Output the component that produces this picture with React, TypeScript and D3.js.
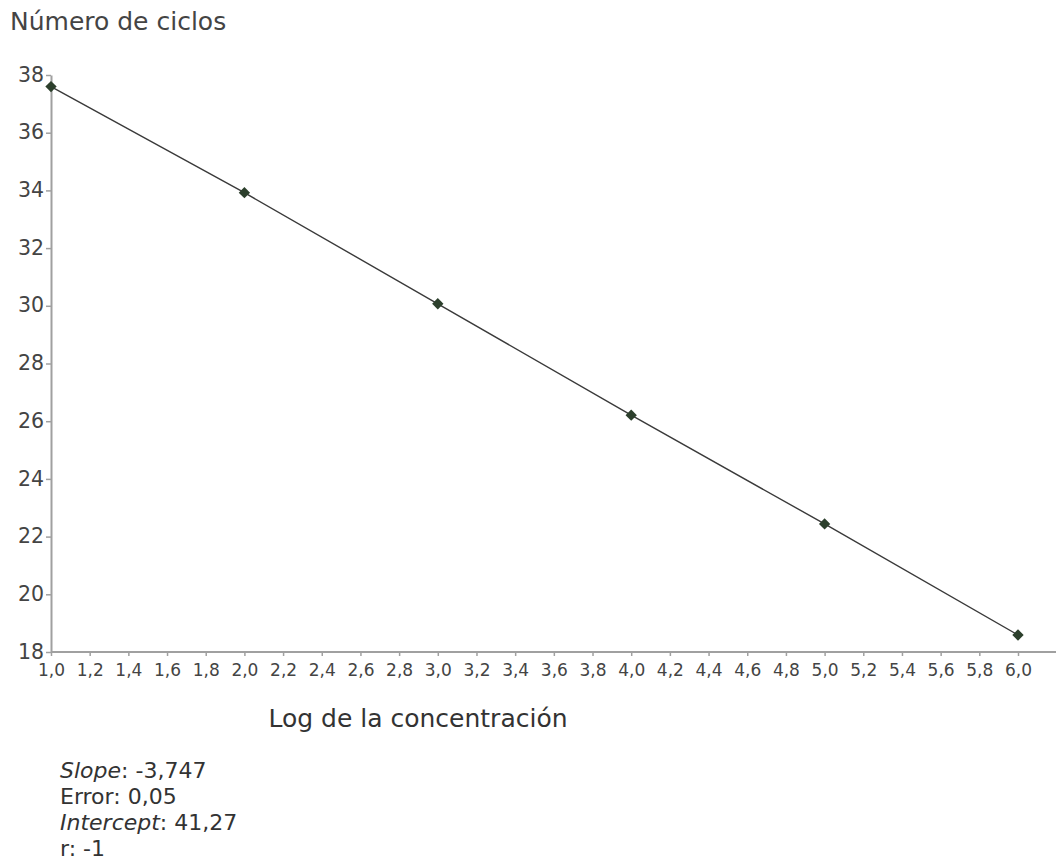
import React, { useEffect, useRef } from "react";
import { axisBottom, axisLeft, scaleLinear, select, line, range, symbol, symbolSquare } from "d3";

const logConc = [1, 2, 3, 4, 5, 6];
const cycles = [37.6, 33.92, 30.07, 26.21, 22.44, 18.59];
const xTicks = range(10, 61, 2).map(d => d / 10);
const yTicks = [18, 20, 22, 24, 26, 28, 30, 32, 34, 36, 38];
const statLines = [
  { label: "Slope", italic: true, value: "-3,747" },
  { label: "Error", italic: false, value: "0,05" },
  { label: "Intercept", italic: true, value: "41,27" },
  { label: "r", italic: false, value: "-1" },
];

const font = "'DejaVu Sans', sans-serif";

const App = () => {
  const svgRef = useRef<SVGSVGElement>(null);

  const width = 1056;
  const height = 868;

  useEffect(() => {
    const svg = select(svgRef.current);

    // SCALES
    const xScale = scaleLinear().domain([1, 6]).range([51, 1018]);
    const yScale = scaleLinear().domain([18, 38]).range([652, 75]);

    // AXES
    const xAxis = axisBottom(xScale)
      .tickValues(xTicks)
      .tickSize(4)
      .tickSizeOuter(0)
      .tickFormat(d => (d as number).toFixed(1).replace(".", ","));

    const gx = svg
      .select<SVGGElement>(".x-axis")
      .attr("transform", `translate(0,${yScale(18)})`)
      .call(xAxis);
    gx.select(".domain").remove();
    gx.append("line")
      .attr("x1", xScale(1))
      .attr("x2", width)
      .attr("stroke", "#a0a0a0")
      .attr("stroke-width", 2);
    gx.selectAll(".tick line").attr("stroke", "#a0a0a0").attr("stroke-width", 1.5);
    gx.selectAll(".tick text")
      .attr("fill", "#444")
      .attr("font-size", 17)
      .attr("font-family", font)
      .attr("y", 24)
      .attr("dy", 0);

    const yAxis = axisLeft(yScale).tickValues(yTicks).tickSize(5).tickSizeOuter(0);
    const gy = svg
      .select<SVGGElement>(".y-axis")
      .attr("transform", `translate(${xScale(1)},0)`)
      .call(yAxis);
    gy.select(".domain").attr("stroke", "#a0a0a0").attr("stroke-width", 2);
    gy.selectAll(".tick line").attr("stroke", "#a0a0a0").attr("stroke-width", 1.5);
    gy.selectAll(".tick text")
      .attr("fill", "#444")
      .attr("font-size", 20.5)
      .attr("font-family", font)
      .attr("x", -7)
      .attr("dy", "0.3em");

    // LINE
    const pts = logConc.map((x, i) => [x, cycles[i]] as [number, number]);
    const path = line<[number, number]>()
      .x(d => xScale(d[0]))
      .y(d => yScale(d[1]));
    svg
      .select(".series")
      .selectAll("path.ln")
      .data([pts])
      .join("path")
      .attr("class", "ln")
      .attr("d", path)
      .attr("fill", "none")
      .attr("stroke", "#3a3a3a")
      .attr("stroke-width", 1.4);

    // MARKERS
    svg
      .select(".series")
      .selectAll("path.pt")
      .data(pts)
      .join("path")
      .attr("class", "pt")
      .attr("d", symbol().type(symbolSquare).size(64)())
      .attr("transform", d => `translate(${xScale(d[0])},${yScale(d[1])}) rotate(45)`)
      .attr("fill", "#2c3f2c");
  }, []);

  return (
    <svg
      ref={svgRef}
      width={width}
      height={height}
      style={{ position: "absolute", left: 0, top: 0, background: "#fff" }}
    >
      <text x={10} y={30} fontSize={25} fontFamily={font} fill="#444">
        Número de ciclos
      </text>
      <g className="x-axis" />
      <g className="y-axis" />
      <g className="series" />
      <text x={418} y={727} fontSize={25} fontFamily={font} fill="#333" textAnchor="middle">
        Log de la concentración
      </text>
      {statLines.map((s, i) => (
        <text key={s.label} x={60} y={778 + i * 26} fontSize={22} fontFamily={font} fill="#333">
          <tspan fontStyle={s.italic ? "italic" : "normal"}>{s.label}</tspan>
          <tspan>: {s.value}</tspan>
        </text>
      ))}
    </svg>
  );
};

export default App;
